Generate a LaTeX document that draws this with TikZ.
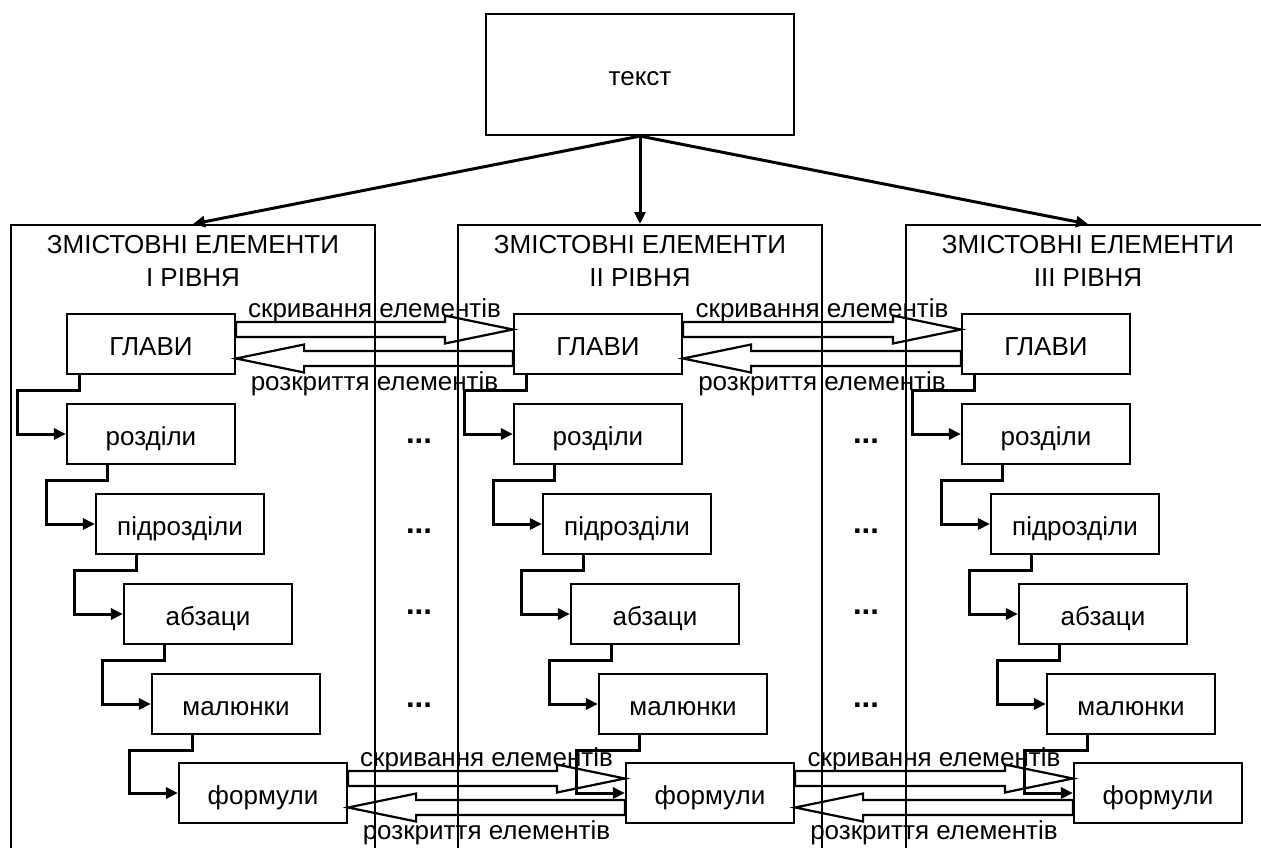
\documentclass[tikz,border=0pt]{standalone}
\usepackage{fontspec}
\setmainfont{Liberation Sans}
\usetikzlibrary{arrows.meta,calc}
\newcommand\blkright[2]{%
  \draw[blk] ($(#1.east)+(0,-22)$) -- ($(#2.west)+(-68,-22)$) -- ($(#2.west)+(-68,-28.5)$)
    -- ($(#2.west)+(0,-14.5)$) -- ($(#2.west)+(-68,-0.5)$) -- ($(#2.west)+(-68,-7)$)
    -- ($(#1.east)+(0,-7)$) -- cycle;}
\newcommand\blkleft[2]{%
  \draw[blk] ($(#2.west)+(0,7)$) -- ($(#1.east)+(68,7)$) -- ($(#1.east)+(68,0.5)$)
    -- ($(#1.east)+(0,14.5)$) -- ($(#1.east)+(68,28.5)$) -- ($(#1.east)+(68,22)$)
    -- ($(#2.west)+(0,22)$) -- cycle;}
\begin{document}
\begin{tikzpicture}[x=1pt,y=-1pt,
  every node/.style={font=\fontsize{26}{30}\selectfont},
  box/.style={draw,line width=2.2pt,minimum width=168pt,minimum height=60pt,inner sep=0pt,
    text height=22pt,text depth=0pt,fill=white},
  panel/.style={draw,line width=1.6pt,minimum width=364pt,minimum height=700pt,anchor=north,inner sep=0pt},
  hdr/.style={anchor=base,inner sep=0pt},
  lbl/.style={anchor=base,inner sep=0pt},
  dotsty/.style={anchor=base,inner sep=0pt,font=\fontsize{31}{34}\selectfont\bfseries},
  conn/.style={line width=3pt,-{Triangle[length=12pt,width=11pt]}},
  blk/.style={line width=2.2pt,line join=miter},
]
\useasboundingbox (0,0) rectangle (1261,848);

\node[box,minimum width=308pt,minimum height=121pt] (t) at (640,74.5) {текст};

\foreach \i/\o/\r in {1/0/I,2/447/II,3/895/III}{
  \node[panel] (p\i) at (193+\o,224) {};
  \node[hdr] (ha\i) at (193+\o,253.5) {ЗМІСТОВНІ ЕЛЕМЕНТИ};
  \node[hdr] (hb\i) at (193+\o,286.5) {\r{} РІВНЯ};
  \node[box] (gl\i) at (151+\o,344) {ГЛАВИ};
  \node[box] (rz\i) at (151+\o,434) {розділи};
  \node[box] (pd\i) at (180+\o,524) {підрозділи};
  \node[box] (ab\i) at (208+\o,614) {абзаци};
  \node[box] (ml\i) at (236+\o,704) {малюнки};
  \node[box] (fm\i) at (263+\o,793) {формули};
  \draw[conn] ($(gl\i.south west)+(14,0)$) -- ++(0,15) -| ($(rz\i.west)+(-48,0)$) -- (rz\i.west);
  \draw[conn] ($(rz\i.south west)+(42,0)$) -- ++(0,15) -| ($(pd\i.west)+(-48,0)$) -- (pd\i.west);
  \draw[conn] ($(pd\i.south west)+(42,0)$) -- ++(0,15) -| ($(ab\i.west)+(-48,0)$) -- (ab\i.west);
  \draw[conn] ($(ab\i.south west)+(42,0)$) -- ++(0,15) -| ($(ml\i.west)+(-48,0)$) -- (ml\i.west);
  \draw[conn] ($(ml\i.south west)+(42,0)$) -- ++(0,15) -| ($(fm\i.west)+(-48,0)$) -- (fm\i.west);
  \draw[conn] (t.south) -- (p\i.north);
}

\foreach \x in {419,866}{
  \foreach \y in {443,533,614,707}{
    \node[dotsty] (dot\x\y) at (\x,\y) {...};
  }
}

\foreach \a/\b in {1/2,2/3}{
  \blkright{gl\a}{gl\b}
  \blkleft{gl\a}{gl\b}
  \blkright{fm\a}{fm\b}
  \blkleft{fm\a}{fm\b}
  \node[lbl] (sg\a) at ($(gl\a.east)!0.5!(gl\b.west)+(0,-27)$) {скривання елементів};
  \node[lbl] (rg\a) at ($(gl\a.east)!0.5!(gl\b.west)+(0,46.5)$) {розкриття елементів};
  \node[lbl] (sf\a) at ($(fm\a.east)!0.5!(fm\b.west)+(0,-27)$) {скривання елементів};
  \node[lbl] (rf\a) at ($(fm\a.east)!0.5!(fm\b.west)+(0,46.5)$) {розкриття елементів};
}
\end{tikzpicture}
\end{document}
